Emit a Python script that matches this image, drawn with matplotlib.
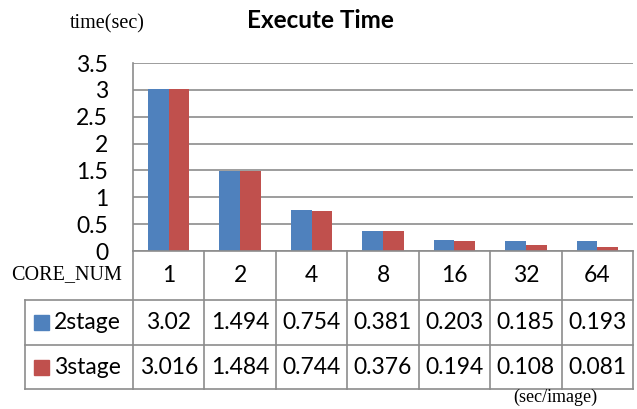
import numpy as np
from matplotlib import pyplot as plt

# chart data
core_num = ['1', '2', '4', '8', '16', '32', '64']
stage2 = [3.02, 1.494, 0.754, 0.381, 0.203, 0.185, 0.193]
stage3 = [3.016, 1.484, 0.744, 0.376, 0.194, 0.108, 0.081]
stage2_txt = ['3.02', '1.494', '0.754', '0.381', '0.203', '0.185', '0.193']
stage3_txt = ['3.016', '1.484', '0.744', '0.376', '0.194', '0.108', '0.081']
series_names = ['2stage', '3stage']
y_ticks = [0, 0.5, 1, 1.5, 2, 2.5, 3, 3.5]

BLUE = '#4F81BD'
RED = '#C0504D'
GRID = '#8C8C8C'
SANS = 'Lato'
SERIF = 'Liberation Serif'
FS = 16.5

W, H = 637, 409
fig = plt.figure(figsize=(W / 100, H / 100), dpi=100)

# plot area in pixels
left, right, top, bottom = 133, 633, 63, 251
ax = fig.add_axes([left / W, 1 - bottom / H, (right - left) / W, (bottom - top) / H])

x = np.arange(len(core_num))
bw = 0.29
ax.bar(x - bw / 2, stage2, bw, color=BLUE, zorder=3)
ax.bar(x + bw / 2, stage3, bw, color=RED, zorder=3)

ax.set_xlim(-0.5, len(core_num) - 0.5)
ax.set_ylim(0, 3.5)
ax.set_yticks(y_ticks)
ax.set_yticklabels([f'{t:g}' for t in y_ticks], fontsize=FS, family=SANS)
ax.tick_params(axis='y', length=0, pad=18)
ax.set_xticks([])
ax.yaxis.grid(True, color=GRID, linewidth=1.2, zorder=0)
for s in ['top', 'right', 'bottom']:
    ax.spines[s].set_visible(False)
ax.spines['left'].set_color(GRID)
ax.spines['left'].set_linewidth(1.2)

# data table below the chart, drawn on an overlay in pixel coords
tab = fig.add_axes([0, 0, 1, 1], zorder=5)
tab.set_xlim(0, W)
tab.set_ylim(H, 0)
tab.axis('off')

ncol = len(core_num)
col_w = (right - left) / ncol
rows = [251, 300, 345, 389]
hdr_left = 25
lkw = dict(color=GRID, linewidth=1.2)

tab.plot([left, right], [rows[0], rows[0]], **lkw)
for r in rows[1:]:
    tab.plot([hdr_left, right], [r, r], **lkw)
tab.plot([hdr_left, hdr_left], [rows[1], rows[3]], **lkw)
for k in range(ncol + 1):
    xe = left + k * col_w
    tab.plot([xe, xe], [rows[0], rows[3]], **lkw)

for i, lab in enumerate(core_num):
    cx = left + (i + 0.5) * col_w
    tab.text(cx, (rows[0] + rows[1]) / 2, lab, ha='center', va='center',
             fontsize=FS, family=SANS)
    tab.text(cx, (rows[1] + rows[2]) / 2, stage2_txt[i], ha='center', va='center',
             fontsize=FS, family=SANS)
    tab.text(cx, (rows[2] + rows[3]) / 2, stage3_txt[i], ha='center', va='center',
             fontsize=FS, family=SANS)

for j, (name, col) in enumerate(zip(series_names, [BLUE, RED])):
    cy = (rows[j + 1] + rows[j + 2]) / 2
    tab.add_patch(plt.Rectangle((34, cy - 7.5), 15, 15, color=col))
    tab.text(54, cy, name, ha='left', va='center', fontsize=FS, family=SANS)

tab.text(67, 275, 'CORE_NUM', ha='center', va='center', fontsize=14.5, family=SERIF)
tab.text(107, 24, 'time(sec)', ha='center', va='center', fontsize=14.5, family=SERIF)
tab.text(320, 21, 'Execute Time', ha='center', va='center', fontsize=17.5,
         family=SANS, fontweight='bold')
tab.text(555, 397, '(sec/image)', ha='center', va='center', fontsize=13, family=SERIF)

fig.savefig('out.png', dpi=100)
